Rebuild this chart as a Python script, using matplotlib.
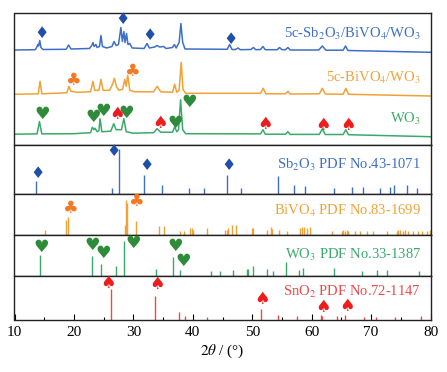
import matplotlib
matplotlib.use("Agg")
import matplotlib.pyplot as plt

plt.rcParams['font.family'] = ['Liberation Serif', 'DejaVu Sans']
plt.rcParams['mathtext.fontset'] = 'stix'

# ---------------- data ----------------
# XRD patterns (2theta, intensity a.u.)
blue_x = [10.0, 13.5, 13.8, 13.95, 14.05, 14.25, 14.45, 14.8, 18.7, 19.1, 19.5, 22.6, 23.0, 23.2, 23.4,
          23.7, 23.9, 24.3, 24.55, 24.8, 25.5, 26.4, 26.75, 27.1, 27.5, 27.9, 28.15, 28.4, 28.6, 28.85,
          29.1, 29.4, 29.8, 31.8, 32.3, 32.7, 33.6, 34.0, 34.4, 35.1, 35.5, 36.6, 36.9, 37.2, 37.7,
          38.0, 38.3, 38.7, 45.8, 46.2, 46.6, 47.2, 47.6, 48.0, 49.8, 50.2, 50.6, 51.4, 51.8, 52.2,
          54.2, 54.6, 55.0, 55.6, 56.0, 56.4, 61.2, 61.8, 62.4, 65.3, 65.7, 66.1, 80.0]
blue_y = [0.5, 0.8, 4, 6, 4.5, 10, 3, 1, 1.2, 5.5, 1.5, 2, 5, 8, 4,
          6, 3, 4, 15, 4, 2.5, 4, 9, 5, 6, 23, 9, 19, 8, 17,
          6, 7, 2.5, 2, 7, 2.5, 3.5, 5, 3.5, 4, 2, 3, 6, 2.5, 8,
          27, 8, 1.5, 1.2, 6, 1, 1, 2.5, 0.8, 1, 3, 0.8, 1, 4, 0.8,
          0.8, 3, 0.8, 0.8, 3, 0.5, 0.5, 4.5, 0.3, 0.3, 4.5, 0, -1.8]

orange_x = [10.0, 14.0, 14.3, 14.6, 18.8, 19.15, 19.5, 20.5, 22.8, 23.2, 23.5, 24.2, 24.55, 24.9,
            26.0, 26.5, 26.8, 27.2, 27.6, 28.2, 28.55, 28.8, 29.05, 29.4, 30.2, 33.4, 34.0, 34.6,
            36.6, 36.95, 37.3, 37.7, 38.05, 38.35, 38.8, 51.4, 51.85, 52.3, 55.6, 56.0, 56.4,
            61.3, 61.8, 62.3, 65.3, 65.75, 66.2, 80.0]
orange_y = [0, 0.5, 13, 0.5, 1.5, 8, 3, 2, 2.5, 13, 4, 4, 15, 4,
            4, 10, 16, 7, 4, 5, 15, 8, 19, 4, 2.5, 2.5, 8, 2.5,
            2, 10, 2, 4, 32, 5, 1, 1, 6, 0.5, 0.5, 3, 0.3,
            0.5, 6, 0.3, 0, 6, 0, -1.7]

green_x = [10.0, 13.8, 14.2, 14.6, 20.0, 22.8, 23.1, 23.35, 23.55, 23.9, 24.2, 24.4, 24.7, 26.2,
           26.7, 27.1, 28.0, 28.4, 28.8, 30.0, 33.4, 34.0, 34.6, 36.6, 36.95, 37.3, 37.6, 37.95,
           38.3, 38.8, 51.4, 51.8, 52.2, 55.6, 56.0, 56.4, 61.3, 61.8, 62.3, 65.3, 65.75, 66.2, 80.0]
green_y = [0.5, 0.8, 13, 0.8, 1, 2, 7.5, 5, 6.5, 3, 4, 16, 3, 3.5,
           11, 5, 5, 16, 3, 1.5, 2, 6, 2.5, 2.5, 8, 3, 5, 35,
           5, 1, 0.8, 5, 0.5, 0.5, 3, 0.3, 0.3, 6, 0.2, 0.2, 5, 0, -2.0]

# PDF reference sticks
sb_pos = [13.6, 26.35, 27.53, 31.83, 34.87, 39.36, 41.89, 45.81, 48.06, 54.34, 56.99, 58.89,
          63.82, 66.85, 68.6, 71.51, 73.2, 73.87, 76.0, 77.68]
sb_int = [12.6, 6, 45, 19, 9, 5.6, 6, 19, 6, 17.6, 9, 7.6, 6, 7, 7, 6, 6.5, 9, 9, 6]

bi_pos = [15.12, 18.6, 18.94, 28.53, 28.75, 28.92, 30.44, 34.36, 35.15, 37.85, 38.52, 39.53,
          39.87, 40.09, 42.44, 45.42, 45.7, 45.98, 46.65, 47.22, 49.92, 50.19, 52.44, 53.11,
          53.28, 54.56, 55.8, 58.05, 58.33, 58.72, 59.28, 59.73, 63.49, 65.07, 65.34, 65.62,
          65.9, 66.18, 67.31, 68.15, 69.28, 70.29, 72.64, 74.33, 74.6, 74.88, 75.44, 75.72,
          76.28, 77.12, 77.96, 78.54, 79.38, 79.93]
bi_int = [5, 15, 18, 10, 35, 32, 13.6, 9, 9, 3.7, 4, 7,
          7, 5, 7, 5, 5, 7, 10, 10, 7, 7, 5, 8,
          6, 5, 4, 7, 8, 8, 7, 8, 4, 4, 5, 4,
          5, 4, 4, 4, 4, 4, 4, 4, 5, 5, 4, 5,
          4, 4, 4, 4, 4, 5]

wo_pos = [14.23, 22.98, 24.55, 27.07, 28.42, 33.8, 36.72, 37.85, 43.06, 44.58, 46.72, 49.07,
          49.34, 50.18, 52.44, 53.45, 55.69, 57.88, 58.5, 63.77, 68.43, 71.06, 72.74, 78.08]
wo_int = [21, 20, 12, 10, 35, 7, 19, 6, 5.3, 5.3, 6, 6.7,
          6.7, 10, 7, 5, 14, 6, 8, 7.7, 5, 6, 6, 5]

sn_pos = [26.28, 33.64, 37.68, 38.69, 42.44, 51.43, 54.39, 57.49, 61.53, 61.8, 64.33, 65.57,
          68.87, 70.84, 74.04, 78.37]
sn_int = [31, 24, 8, 4, 3, 11, 5, 4, 5, 4, 4, 5, 3, 3, 3, 4]

# phase markers (2theta, height)
top_diamond = [(14.5, 112), (28.13, 126), (32.68, 110), (46.4, 105.7)]
top_club = [(19.8, 65), (29.76, 74.3)]
top_heart = [(14.73, 31), (23.25, 28.3), (24.93, 34), (28.75, 32.3), (37.0, 22), (39.36, 43.3)]
top_spade = [(27.19, 30.7), (34.48, 22), (52.15, 21), (61.97, 20), (66.08, 20)]
sb_diamond = [(13.89, 20.2), (26.73, 41.5), (32.24, 28.5), (45.98, 27.8)]
bi_club = [(19.33, 26.2), (30.44, 33.5)]
wo_heart = [(14.56, 29.3), (23.03, 31), (24.93, 22.7), (29.98, 33.3), (37.0, 30), (38.4, 15.3)]
sn_spade = [(25.67, 36.2), (34.02, 35.5), (51.6, 20.2), (61.87, 12.8), (66.01, 13.5)]

xticks = [10, 20, 30, 40, 50, 60, 70, 80]

# ---------------- style ----------------
BLUE = '#3d6fc8'
BLUE_M = '#1f4fa8'
ORANGE = '#f0a236'
ORANGE_M = '#f27a26'
GREEN = '#3aaa6a'
GREEN_M = '#2e8b3a'
RED = '#f04848'
RED_M = '#ee1c1c'

W, H = 447, 372
fig = plt.figure(figsize=(W / 100, H / 100), dpi=100)
L = 14.5 / W
Wd = 416 / W
bounds = [13, 145, 193.5, 234.5, 276, 319.5]
axes = []
for i in range(5):
    t, b = bounds[i], bounds[i + 1]
    ax = fig.add_axes([L, 1 - b / H, Wd, (b - t) / H])
    ax.set_xlim(10, 80)
    ax.set_ylim(0, b - t)
    for s in ax.spines.values():
        s.set_linewidth(1.0)
        s.set_color('#222222')
    ax.tick_params(left=False, labelleft=False, bottom=False, labelbottom=False)
    axes.append(ax)

sym_font = 'DejaVu Sans'
DS, CS, HS, SS = 11.5, 12.5, 12.5, 12.5


def marks(ax, pts, glyph, color, size):
    for x, y in pts:
        ax.text(x, y, glyph, color=color, fontsize=size, ha='center', va='center',
                family=sym_font)


# top panel
a0 = axes[0]
a0.plot(blue_x, [94.5 + v for v in blue_y], color=BLUE, lw=1.1)
a0.plot(orange_x, [50.7 + v for v in orange_y], color=ORANGE, lw=1.1)
a0.plot(green_x, [10.3 + v for v in green_y], color=GREEN, lw=1.1)
marks(a0, top_diamond, '\u2666', BLUE_M, DS)
marks(a0, top_club, '\u2663', ORANGE_M, CS)
marks(a0, top_heart, '\u2665', GREEN_M, HS)
marks(a0, top_spade, '\u2660', RED_M, SS)
tx = (421 - 14.5) / 416
a0.text(tx, 106.7, r'5c-Sb$_2$O$_3$/BiVO$_4$/WO$_3$', color=BLUE, fontsize=10.5,
        ha='right', va='baseline', transform=a0.get_yaxis_transform())
a0.text(tx, 63.3, r'5c-BiVO$_4$/WO$_3$', color=ORANGE, fontsize=10.5,
        ha='right', va='baseline', transform=a0.get_yaxis_transform())
a0.text(tx, 21.7, r'WO$_3$', color=GREEN, fontsize=10.5,
        ha='right', va='baseline', transform=a0.get_yaxis_transform())

# Sb2O3 panel
a1 = axes[1]
a1.vlines(sb_pos, 0, sb_int, color=BLUE, lw=1.0)
marks(a1, sb_diamond, '\u2666', BLUE_M, DS)
a1.text(tx, 24.5, r'Sb$_2$O$_3$ PDF No.43-1071', color=BLUE, fontsize=10.5,
        ha='right', va='baseline', transform=a1.get_yaxis_transform())

# BiVO4 panel
a2 = axes[2]
a2.vlines(bi_pos, 0, bi_int, color=ORANGE, lw=1.0)
marks(a2, bi_club, '\u2663', ORANGE_M, CS)
a2.text(tx, 19.5, r'BiVO$_4$ PDF No.83-1699', color=ORANGE, fontsize=10.5,
        ha='right', va='baseline', transform=a2.get_yaxis_transform())

# WO3 panel
a3 = axes[3]
a3.vlines(wo_pos, 0, wo_int, color=GREEN, lw=1.0)
marks(a3, wo_heart, '\u2665', GREEN_M, HS)
a3.text(tx, 17.5, r'WO$_3$ PDF No.33-1387', color=GREEN, fontsize=10.5,
        ha='right', va='baseline', transform=a3.get_yaxis_transform())

# SnO2 panel
a4 = axes[4]
a4.vlines(sn_pos, 0, sn_int, color=RED, lw=1.0)
marks(a4, sn_spade, '\u2660', RED_M, SS)
a4.text(tx, 23.8, r'SnO$_2$ PDF No.72-1147', color=RED, fontsize=10.5,
        ha='right', va='baseline', transform=a4.get_yaxis_transform())
a4.tick_params(bottom=True, labelbottom=True, direction='in', length=4, width=0.8,
               labelsize=11, pad=5)
a4.set_xticks(xticks)
a4.set_xticks([15, 25, 35, 45, 55, 65, 75], minor=True)
a4.tick_params(which='minor', bottom=True, direction='in', length=2, width=0.8)
a4.set_xlabel(r'$2\theta$ / (°)', fontsize=11, labelpad=2)

fig.savefig('out.png', dpi=100)
